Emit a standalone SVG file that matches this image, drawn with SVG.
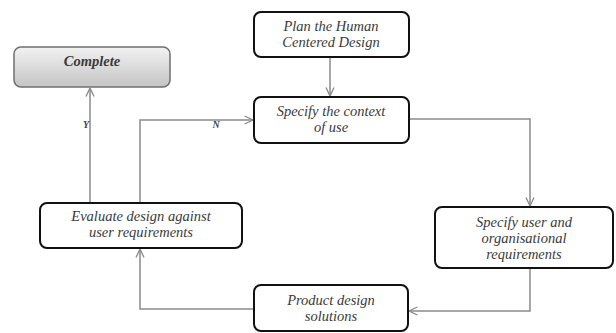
<svg xmlns="http://www.w3.org/2000/svg" width="616" height="333" viewBox="0 0 616 333">
<style>
.box{fill:#fff;stroke:#111;stroke-width:2}
.t{font-family:'Liberation Serif','DejaVu Serif','Times New Roman',serif;font-style:italic;font-size:14.5px;fill:#3a3a3a;text-anchor:middle}
.c{fill:none;stroke:#8a8a8a;stroke-width:1.5}
.lbl{font-family:'Liberation Serif','DejaVu Serif',serif;font-style:italic;font-weight:bold;font-size:10px;fill:#444;text-anchor:middle}
</style>
<defs>
<linearGradient id="g" x1="0" y1="0" x2="0" y2="1">
<stop offset="0" stop-color="#f2f2f2"/>
<stop offset="1" stop-color="#c4c4c4"/>
</linearGradient>
<marker id="a" viewBox="0 0 10 10" refX="9.5" refY="5" markerWidth="10" markerHeight="10" markerUnits="userSpaceOnUse" orient="auto">
<path d="M1,1 L9.5,5 L1,9" fill="none" stroke="#8a8a8a" stroke-width="1.3"/>
</marker>
</defs>
<rect width="616" height="333" fill="#fff"/>
<g id="connectors">
<path class="c" d="M330,57 V96" marker-end="url(#a)"/>
<path class="c" d="M409,119 H530 V206" marker-end="url(#a)"/>
<path class="c" d="M530,268 V311 H409" marker-end="url(#a)"/>
<path class="c" d="M254,309 H140 V249" marker-end="url(#a)"/>
<path class="c" d="M90,203 V88" marker-end="url(#a)"/>
<path class="c" d="M140,203 V120 H253" marker-end="url(#a)"/>
<text class="lbl" x="86" y="128">Y</text>
<text class="lbl" x="216" y="128">N</text>
</g>
<g id="complete">
<rect x="14" y="47" width="156" height="40" rx="7" fill="url(#g)" stroke="#6f6f6f" stroke-width="1.5"/>
<text class="t" x="92" y="66" font-weight="bold" fill="#555">Complete</text>
</g>
<g id="plan">
<rect class="box" x="254" y="12" width="155" height="45" rx="7"/>
<text class="t" x="331" y="31">Plan the Human</text>
<text class="t" x="331" y="47">Centered Design</text>
</g>
<g id="specify-context">
<rect class="box" x="254" y="97" width="155" height="46" rx="7"/>
<text class="t" x="331" y="116">Specify the context</text>
<text class="t" x="331" y="132">of use</text>
</g>
<g id="specify-user">
<rect class="box" x="435" y="207" width="178" height="61" rx="7"/>
<text class="t" x="524" y="227">Specify user and</text>
<text class="t" x="524" y="243">organisational</text>
<text class="t" x="524" y="259">requirements</text>
</g>
<g id="product">
<rect class="box" x="254" y="285" width="154" height="46" rx="7"/>
<text class="t" x="331" y="305">Product design</text>
<text class="t" x="331" y="321">solutions</text>
</g>
<g id="evaluate">
<rect class="box" x="40" y="203" width="202" height="45" rx="7"/>
<text class="t" x="141" y="221">Evaluate design against</text>
<text class="t" x="141" y="237">user requirements</text>
</g>
</svg>
